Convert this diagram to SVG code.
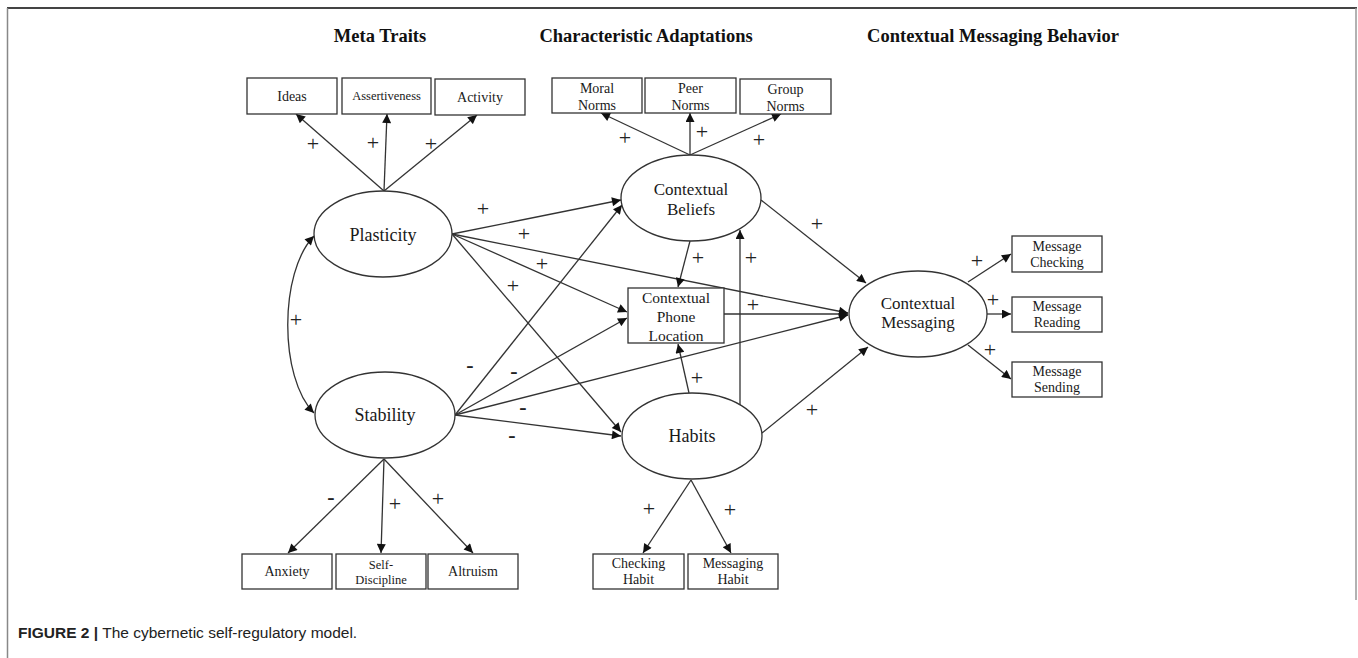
<svg xmlns="http://www.w3.org/2000/svg" width="1358" height="658" viewBox="0 0 1358 658">
<defs>
<marker id="ah" viewBox="0 0 10 10" refX="10" refY="5" markerWidth="11" markerHeight="9" markerUnits="userSpaceOnUse" orient="auto-start-reverse">
<path d="M0,0 L10,5 L0,10 z" fill="#111"/>
</marker>
<style>
.n{fill:#fff;stroke:#333;stroke-width:1.3}
.t{font-family:"Liberation Serif","Times New Roman",serif;fill:#1a1a1a;text-anchor:middle}
.e{font-size:18px}
.e2{font-size:17px}
.b{font-size:14px}
.bs{font-size:12.5px}
.h{font-family:"Liberation Serif","Times New Roman",serif;font-weight:bold;font-size:18.5px;fill:#111;text-anchor:middle}
.c line,.c path{stroke:#333;stroke-width:1.3;fill:none;marker-end:url(#ah)}
.s{font-family:"Liberation Serif","Times New Roman",serif;font-size:22px;fill:#222;text-anchor:middle}
.m{font-family:"Liberation Serif","Times New Roman",serif;font-size:22px;font-weight:bold;fill:#222;text-anchor:middle}
.cap{font-family:"Liberation Sans",Arial,sans-serif;font-size:15.5px;fill:#222}
</style>
</defs>
<rect width="1358" height="658" fill="#fff"/>
<line x1="7" y1="8" x2="1357" y2="8" stroke="#444" stroke-width="2"/>
<line x1="7.5" y1="8" x2="7.5" y2="658" stroke="#888" stroke-width="1.5"/>
<line x1="1356" y1="8" x2="1356" y2="600" stroke="#999" stroke-width="1.5"/>

<text class="h" x="380" y="42">Meta Traits</text>
<text class="h" x="646" y="42">Characteristic Adaptations</text>
<text class="h" x="993" y="42">Contextual Messaging Behavior</text>

<g class="c" id="connectors">
<line x1="384" y1="191" x2="296" y2="114"/>
<line x1="384" y1="191" x2="387" y2="114"/>
<line x1="384" y1="191" x2="477" y2="115"/>
<line x1="690" y1="155" x2="601" y2="113"/>
<line x1="690" y1="155" x2="690" y2="113"/>
<line x1="690" y1="155" x2="781" y2="114"/>
<path d="M314,236 C279,272 279,378 314,413" style="marker-start:url(#ah)"/>
<line x1="452" y1="234" x2="621" y2="200"/>
<line x1="452" y1="234" x2="848" y2="313"/>
<line x1="452" y1="234" x2="627" y2="312"/>
<line x1="452" y1="234" x2="621" y2="432"/>
<line x1="455" y1="415" x2="622" y2="205"/>
<line x1="455" y1="415" x2="627" y2="318"/>
<line x1="455" y1="415" x2="848" y2="315"/>
<line x1="455" y1="415" x2="621" y2="436"/>
<line x1="690" y1="241" x2="678" y2="287"/>
<line x1="761" y1="200" x2="866" y2="283"/>
<line x1="740" y1="405" x2="740" y2="230"/>
<line x1="689" y1="393" x2="678" y2="344"/>
<line x1="762" y1="433" x2="868" y2="347"/>
<line x1="724" y1="314" x2="848" y2="314"/>
<line x1="968" y1="282" x2="1011" y2="254"/>
<line x1="987" y1="314" x2="1011" y2="314"/>
<line x1="968" y1="345" x2="1011" y2="379"/>
<line x1="384" y1="459" x2="288" y2="553"/>
<line x1="384" y1="459" x2="381" y2="553"/>
<line x1="384" y1="459" x2="473" y2="553"/>
<line x1="691" y1="480" x2="643" y2="553"/>
<line x1="691" y1="480" x2="731" y2="553"/>
</g>

<g id="signs">
<text class="s" x="313" y="151">+</text>
<text class="s" x="373" y="150">+</text>
<text class="s" x="431" y="151">+</text>
<text class="s" x="625" y="145">+</text>
<text class="s" x="702" y="139">+</text>
<text class="s" x="759" y="147">+</text>
<text class="s" x="296" y="327">+</text>
<text class="s" x="483" y="216">+</text>
<text class="s" x="524" y="241">+</text>
<text class="s" x="542" y="271">+</text>
<text class="s" x="513" y="293">+</text>
<text class="m" x="470" y="372">-</text>
<text class="m" x="514" y="378">-</text>
<text class="m" x="523" y="414">-</text>
<text class="m" x="512" y="442">-</text>
<text class="s" x="698" y="265">+</text>
<text class="s" x="751" y="265">+</text>
<text class="s" x="817" y="231">+</text>
<text class="s" x="753" y="312">+</text>
<text class="s" x="697" y="385">+</text>
<text class="s" x="812" y="417">+</text>
<text class="s" x="977" y="268">+</text>
<text class="s" x="993" y="307">+</text>
<text class="s" x="990" y="357">+</text>
<text class="m" x="331" y="504">-</text>
<text class="s" x="395" y="511">+</text>
<text class="s" x="438" y="506">+</text>
<text class="s" x="649" y="516">+</text>
<text class="s" x="730" y="517">+</text>
</g>

<g id="ideas"><rect class="n" x="247" y="78" width="90" height="36"/><text class="t b" x="292" y="101">Ideas</text></g>
<g id="assertiveness"><rect class="n" x="342" y="78" width="89" height="36"/><text class="t bs" x="386.5" y="100">Assertiveness</text></g>
<g id="activity"><rect class="n" x="435" y="79" width="90" height="36"/><text class="t b" x="480" y="102">Activity</text></g>

<g id="moral"><rect class="n" x="552" y="78" width="90" height="35"/><text class="t b" x="597" y="93">Moral</text><text class="t b" x="597" y="110">Norms</text></g>
<g id="peer"><rect class="n" x="645" y="78" width="91" height="35"/><text class="t b" x="690.5" y="93">Peer</text><text class="t b" x="690.5" y="110">Norms</text></g>
<g id="group"><rect class="n" x="740" y="79" width="91" height="35"/><text class="t b" x="785.5" y="94">Group</text><text class="t b" x="785.5" y="111">Norms</text></g>

<g id="plasticity"><ellipse class="n" cx="383" cy="234" rx="69" ry="43"/><text class="t e" x="383" y="241">Plasticity</text></g>
<g id="stability"><ellipse class="n" cx="385" cy="415" rx="70" ry="43"/><text class="t e" x="385" y="421">Stability</text></g>
<g id="beliefs"><ellipse class="n" cx="691" cy="198" rx="70" ry="43"/><text class="t e2" x="691" y="195">Contextual</text><text class="t e2" x="691" y="215">Beliefs</text></g>
<g id="habits"><ellipse class="n" cx="692" cy="436" rx="70" ry="43"/><text class="t e" x="692" y="442">Habits</text></g>
<g id="messaging"><ellipse class="n" cx="918" cy="314" rx="69" ry="43"/><text class="t e2" x="918" y="309">Contextual</text><text class="t e2" x="918" y="328">Messaging</text></g>

<g id="phone"><rect class="n" x="628" y="288" width="96" height="55"/><text class="t" style="font-size:15.5px" x="676" y="303">Contextual</text><text class="t" style="font-size:15.5px" x="676" y="322">Phone</text><text class="t" style="font-size:15.5px" x="676" y="341">Location</text></g>

<g id="msgcheck"><rect class="n" x="1012" y="236" width="90" height="36"/><text class="t b" x="1057" y="251">Message</text><text class="t b" x="1057" y="267">Checking</text></g>
<g id="msgread"><rect class="n" x="1012" y="297" width="90" height="35"/><text class="t b" x="1057" y="311">Message</text><text class="t b" x="1057" y="327">Reading</text></g>
<g id="msgsend"><rect class="n" x="1012" y="362" width="90" height="35"/><text class="t b" x="1057" y="376">Message</text><text class="t b" x="1057" y="392">Sending</text></g>

<g id="anxiety"><rect class="n" x="242" y="554" width="90" height="35"/><text class="t b" x="287" y="576">Anxiety</text></g>
<g id="selfdisc"><rect class="n" x="336" y="554" width="90" height="35"/><text class="t bs" x="381" y="569">Self-</text><text class="t bs" x="381" y="584">Discipline</text></g>
<g id="altruism"><rect class="n" x="428" y="554" width="90" height="35"/><text class="t b" x="473" y="576">Altruism</text></g>

<g id="checkhabit"><rect class="n" x="593" y="554" width="91" height="35"/><text class="t b" x="638.5" y="568">Checking</text><text class="t b" x="638.5" y="584">Habit</text></g>
<g id="msghabit"><rect class="n" x="688" y="554" width="90" height="35"/><text class="t b" x="733" y="568">Messaging</text><text class="t b" x="733" y="584">Habit</text></g>

<text class="cap" x="18" y="638"><tspan font-weight="bold">FIGURE 2 |</tspan> The cybernetic self-regulatory model.</text>
</svg>
